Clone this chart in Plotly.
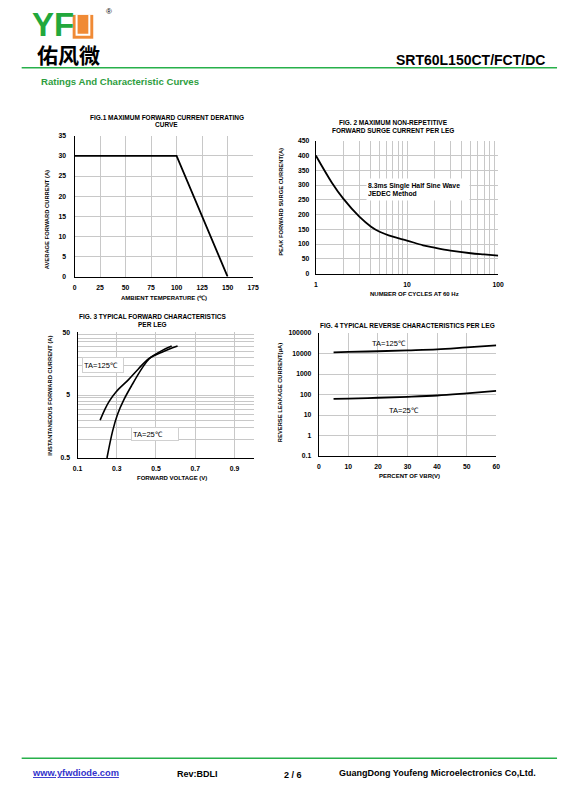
import plotly.graph_objects as go

W, H = 565, 803

# Fig.1 derating curve
fig1_temp = [0, 100, 150]
fig1_current = [30, 30, 0]

# Fig.2 surge current vs cycles
fig2_cycles = [1, 1.5, 2, 3, 4, 5, 7, 10, 15, 20, 30, 50, 70, 100]
fig2_surge = [400, 308, 254, 193, 160, 142, 125, 112, 96, 88, 78, 69, 65, 61]

# Fig.3 forward characteristics
fig3_v25 = [0.25, 0.279, 0.304, 0.337, 0.379, 0.43, 0.466, 0.53, 0.58]
fig3_i25 = [0.5, 1.35, 2.48, 4.27, 7.37, 13.5, 19.0, 25.4, 30.0]
fig3_v125 = [0.215, 0.24, 0.262, 0.296, 0.36, 0.41, 0.463, 0.53, 0.61]
fig3_i125 = [2.0, 3.0, 4.0, 5.6, 8.8, 13.0, 19.0, 24.0, 30.0]

# Fig.4 reverse characteristics
fig4_pct = [5, 10, 20, 30, 40, 50, 60]
fig4_leak125 = [11500, 12000, 13000, 14300, 16000, 20000, 25000]
fig4_leak25 = [62, 64, 70, 78, 90, 115, 150]

fig3_yticks = [0.5, 5, 50]
fig3_minor = [1, 1.5, 2, 2.5, 3, 3.5, 4, 4.5, 10, 15, 20, 25, 30, 35, 40, 45]
fig2_minor = [2, 3, 4, 5, 6, 7, 8, 9, 20, 30, 40, 50, 60, 70, 80, 90]
fig4_yticks = [0.1, 1, 10, 100, 1000, 10000, 100000]

FONT = "Liberation Sans"
GRID = "#c8c8c8"
GREEN = "#27b04a"


def px(x, y):
    return x / W, 1 - y / H


def dom_x(a, b):
    return [a / W, b / W]


def dom_y(top, bottom):
    return [1 - bottom / H, 1 - top / H]


fig = go.Figure()

line = dict(color="black", width=1.8)
fig.add_trace(go.Scatter(x=fig1_temp, y=fig1_current, mode="lines", line=line,
                         xaxis="x", yaxis="y"))
fig.add_trace(go.Scatter(x=fig2_cycles, y=fig2_surge, mode="lines",
                         line=dict(color="black", width=1.8, shape="spline"),
                         xaxis="x2", yaxis="y2"))
fig.add_trace(go.Scatter(x=fig3_v25, y=fig3_i25, mode="lines",
                         line=dict(color="black", width=1.6, shape="spline"),
                         xaxis="x3", yaxis="y3"))
fig.add_trace(go.Scatter(x=fig3_v125, y=fig3_i125, mode="lines",
                         line=dict(color="black", width=1.6, shape="spline"),
                         xaxis="x3", yaxis="y3"))
fig.add_trace(go.Scatter(x=fig4_pct, y=fig4_leak125, mode="lines",
                         line=dict(color="black", width=1.8, shape="spline"),
                         xaxis="x4", yaxis="y4"))
fig.add_trace(go.Scatter(x=fig4_pct, y=fig4_leak25, mode="lines",
                         line=dict(color="black", width=1.8, shape="spline"),
                         xaxis="x4", yaxis="y4"))

tickfont = dict(family=FONT, size=6.8, color="black", weight="bold")
base = dict(showgrid=True, gridcolor=GRID, gridwidth=0.8, zeroline=False,
            showline=True, linecolor="black", linewidth=1.3, ticks="",
            tickfont=tickfont, fixedrange=True)

layout = dict(
    width=W, height=H, margin=dict(l=0, r=0, t=0, b=0),
    paper_bgcolor="white", plot_bgcolor="white", showlegend=False,
    hovermode=False,
    xaxis=dict(base, domain=dom_x(71, 253), anchor="y", range=[0, 175],
               dtick=25, tick0=0, ticklabelstandoff=4),
    yaxis=dict(base, domain=dom_y(133, 275), anchor="x", range=[0, 35],
               dtick=5, ticklabelstandoff=6),
    xaxis2=dict(base, domain=dom_x(317, 503), anchor="y2", type="log",
                range=[0, 2], tickvals=[1, 10, 100], ticklabelstandoff=4,
                minor=dict(tickvals=fig2_minor, showgrid=True, gridcolor=GRID,
                           gridwidth=0.8, ticks="")),
    yaxis2=dict(base, domain=dom_y(138, 272), anchor="x2", range=[0, 450],
                dtick=50, ticklabelstandoff=4),
    xaxis3=dict(base, domain=dom_x(74, 254), anchor="y3", range=[0.1, 1.0],
                tickvals=[0.1, 0.3, 0.5, 0.7, 0.9], ticklabelstandoff=4,
                minor=dict(tickvals=[1.0], showgrid=True, gridcolor=GRID,
                           gridwidth=0.8, ticks="")),
    yaxis3=dict(base, domain=dom_y(331, 458), anchor="x3", type="log",
                range=[-0.30103, 1.69897], tickvals=fig3_yticks,
                ticktext=["0.5", "5", "50"], ticklabelstandoff=5,
                minor=dict(tickvals=fig3_minor, showgrid=True, gridcolor=GRID,
                           gridwidth=0.8, ticks="")),
    xaxis4=dict(base, domain=dom_x(320, 501), anchor="y4", range=[0, 60],
                dtick=10, ticklabelstandoff=4),
    yaxis4=dict(base, domain=dom_y(332, 456), anchor="x4", type="log",
                range=[-1, 5], tickvals=fig4_yticks,
                ticktext=["0.1", "1", "10", "100", "1000", "10000", "100000"],
                ticklabelstandoff=5),
)
fig.update_layout(**layout)

ann = []


def text(x, y, s, size=6.5, bold=True, color="black", xanchor="center",
         family=FONT, angle=0, **kw):
    ax, ay = px(x, y)
    ann.append(dict(x=ax, y=ay, xref="paper", yref="paper", text=s,
                    showarrow=False, xanchor=xanchor, yanchor="middle",
                    textangle=angle,
                    font=dict(family=family, size=size, color=color,
                              weight="bold" if bold else "normal"), **kw))


# chart titles
text(165, 114, "FIG.1 MAXIMUM FORWARD CURRENT DERATING")
text(165, 121.5, "CURVE")
text(396, 120, "FIG. 2 MAXIMUM NON-REPETITIVE")
text(396, 127.5, "FORWARD SURGE CURRENT PER LEG")
text(150, 315.5, "FIG. 3 TYPICAL FORWARD CHARACTERISTICS")
text(150, 323, "PER LEG")
text(411, 324, "FIG. 4 TYPICAL REVERSE CHARACTERISTICS PER LEG")

# axis titles
text(162, 297, "AMBIENT TEMPERATURE (\u2103)", size=6)
text(43, 218, "AVERAGE FORWARD CURRENT (A)", size=5.8, angle=-90)
text(418, 293, "NUMBER OF CYCLES AT 60 Hz", size=6)
text(282, 200, "PEAK FORWARD SURGE CURRENT(A)", size=5.8, angle=-90)
text(170, 478, "FORWARD VOLTAGE (V)", size=6)
text(45, 395, "INSTANTANEOUS FORWARD CURRENT (A)", size=5.8, angle=-90)
text(413, 476, "PERCENT OF VBR(V)", size=6)
text(280, 392, "REVERSE LEAKAGE CURRENT(\u03bcA)", size=5.8, angle=-90)

# in-chart notes
text(421.5, 187.5, "8.3ms Single Half Sine Wave<br>JEDEC Method", size=6.8,
     bold=True, align="left", bgcolor="white", width=100, height=19)
text(100, 364, "TA=125\u2103", size=7.5, bold=False, bgcolor="white",
     bordercolor="#d0d0d0", borderwidth=1, width=38, height=12, align="left")
text(153, 434, "TA=25\u2103", size=7.5, bold=False, bgcolor="white",
     bordercolor="#d0d0d0", borderwidth=1, width=44, height=10, align="left")
text(372, 342, "TA=125\u2103", size=7.5, bold=False, xanchor="left")
text(390, 410, "TA=25\u2103", size=7.5, bold=False, xanchor="left")

# page header
text(25, 21, "YF", size=33, color="#22a83c", xanchor="left")
text(101, 8, "\u00ae", size=8, bold=False, xanchor="left")
text(31, 50, "佑风微", size=21, family="Noto Sans CJK SC", xanchor="left")
text(553, 56, "SRT60L150CT/FCT/DC", size=14, xanchor="right")
text(35, 78, "Ratings And Characteristic Curves", size=9.6, color="#2e9e3e",
     xanchor="left")

# footer
text(25, 776, "<u>www.yfwdiode.com</u>", size=9.3, color="#3333cc",
     xanchor="left")
text(173, 777, "Rev:BDLI", size=9, xanchor="left")
text(283, 778, "2 / 6", size=9, xanchor="left")
text(339, 776, "GuangDong Youfeng Microelectronics Co,Ltd.", size=9,
     xanchor="left")

fig.update_layout(annotations=ann)


def hline(y, x0, x1, color, width):
    fig.add_shape(type="line", xref="paper", yref="paper",
                  x0=x0 / W, x1=x1 / W, y0=1 - y / H, y1=1 - y / H,
                  line=dict(color=color, width=width))


hline(64.3, 17, 563, GREEN, 1.5)
hline(761, 17, 563, GREEN, 1.5)

# orange "U" block of the logo
fig.add_shape(type="rect", xref="paper", yref="paper",
              x0=69 / W, x1=90 / W, y0=1 - 35 / H, y1=1 - 11 / H,
              fillcolor="#f08a35", line=dict(width=0))
ux = [73, 73, 86, 86]
uy = [11, 31, 31, 11]
path = "M " + " L ".join(f"{a / W:.5f},{1 - b / H:.5f}" for a, b in zip(ux, uy))
fig.add_shape(type="path", xref="paper", yref="paper", path=path,
              line=dict(color="white", width=2))

# drop the browser's default page margin so the figure sits at (0, 0)
fig.write_html("out.html", config={"displayModeBar": False},
               post_script="document.body.style.margin='0';")
